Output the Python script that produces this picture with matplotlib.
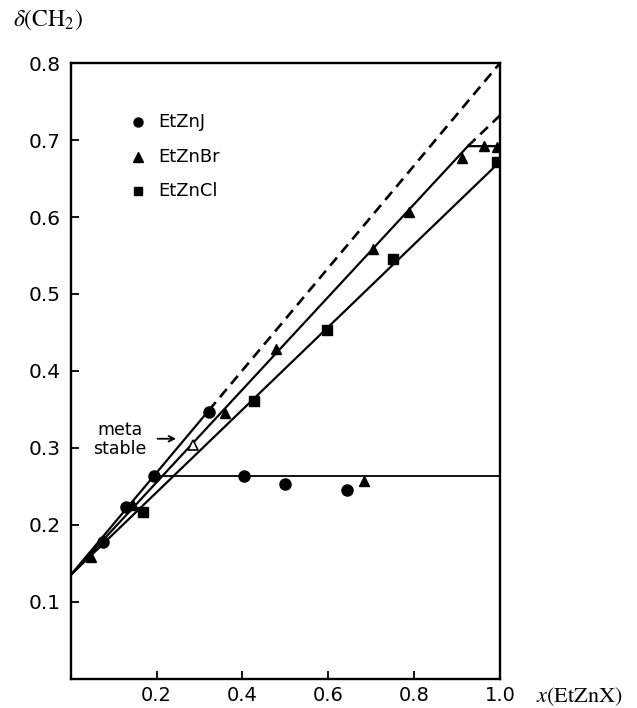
"""
delta(CH2) vs mole fraction x(EtZnX) for EtZnJ / EtZnBr / EtZnCl.
"""

import matplotlib

matplotlib.use("Agg")
import matplotlib.pyplot as plt  # noqa: E402

plt.rcParams["mathtext.fontset"] = "stix"

# measured points
j_x = [0.075, 0.128, 0.194, 0.322, 0.403, 0.499, 0.643]
j_y = [0.178, 0.224, 0.263, 0.347, 0.263, 0.253, 0.245]

br_x = [0.048, 0.145, 0.360, 0.478, 0.703, 0.788, 0.912, 0.963, 0.994, 0.684]
br_y = [0.159, 0.226, 0.346, 0.428, 0.559, 0.607, 0.677, 0.692, 0.691, 0.257]

cl_x = [0.168, 0.428, 0.596, 0.750, 0.994]
cl_y = [0.217, 0.361, 0.453, 0.546, 0.672]

# metastable EtZnBr point (open marker)
meta_x = [0.284]
meta_y = [0.304]

# drawn curves
j_solid_x, j_solid_y = [0.0, 0.322], [0.135, 0.349]
j_dash_x, j_dash_y = [0.322, 1.0], [0.349, 0.800]
br_solid_x, br_solid_y = [0.0, 0.925, 1.0], [0.135, 0.692, 0.692]
br_dash_x, br_dash_y = [0.925, 1.0], [0.692, 0.732]
cl_solid_x, cl_solid_y = [0.0, 1.0], [0.135, 0.672]
plateau_x, plateau_y = [0.194, 1.0], [0.263, 0.263]

yticks = [0.1, 0.2, 0.3, 0.4, 0.5, 0.6, 0.7, 0.8]
xticks = [0.2, 0.4, 0.6, 0.8, 1.0]

fig = plt.figure(figsize=(6.37, 7.08), dpi=100)
ax = fig.add_axes([0.111, 0.041, 0.674, 0.870])

lw = 1.6
ax.plot(j_solid_x, j_solid_y, color="black", lw=lw)
ax.plot(j_dash_x, j_dash_y, color="black", lw=lw + 0.3, ls=(0, (4, 2.5)))
ax.plot(br_solid_x, br_solid_y, color="black", lw=lw)
ax.plot(br_dash_x, br_dash_y, color="black", lw=lw + 0.3, ls=(0, (4, 2.5)))
ax.plot(cl_solid_x, cl_solid_y, color="black", lw=lw)
ax.plot(plateau_x, plateau_y, color="black", lw=1.3)

ax.plot(j_x, j_y, "o", color="black", ms=8, ls="none")
ax.plot(br_x, br_y, "^", color="black", ms=7, ls="none")
ax.plot(cl_x, cl_y, "s", color="black", ms=7, ls="none")
ax.plot(meta_x, meta_y, "^", mfc="white", mec="black", mew=1.2, ms=6.5, ls="none")

# legend drawn by hand
leg = [("o", "EtZnJ", 0.723, 6.5), ("^", "EtZnBr", 0.678, 6.5), ("s", "EtZnCl", 0.634, 5.5)]
for m, label, yy, ms in leg:
    ax.plot([0.156], [yy], m, color="black", ms=ms)
    ax.text(0.205, yy, label, fontsize=13, va="center", ha="left")

ax.text(0.114, 0.311, "meta\nstable", fontsize=12.5, ha="center", va="center",
        linespacing=1.05)
ax.annotate("", xy=(0.252, 0.312), xytext=(0.196, 0.312),
            arrowprops=dict(arrowstyle="->", color="black", lw=1.3))

ax.set_xlim(0, 1.0)
ax.set_ylim(0, 0.8)
ax.set_xticks(xticks)
ax.set_yticks(yticks)
ax.set_xticklabels([f"{v:.1f}" for v in xticks], fontsize=14)
ax.set_yticklabels([f"{v:.1f}" for v in yticks], fontsize=14.5)
ax.tick_params(direction="in", length=6, width=1.3, pad=7)
ax.tick_params(axis="x", pad=5)
for s in ax.spines.values():
    s.set_linewidth(1.7)

ax.text(-0.053, 1.07, r"$\delta$(CH$_2$)", transform=ax.transAxes,
        fontsize=17, family="STIXGeneral", ha="center", va="center")
ax.text(1.083, -0.029, r"$x$(EtZnX)", transform=ax.transAxes,
        fontsize=16, family="STIXGeneral", ha="left", va="center")

fig.savefig("out.png", dpi=100)
